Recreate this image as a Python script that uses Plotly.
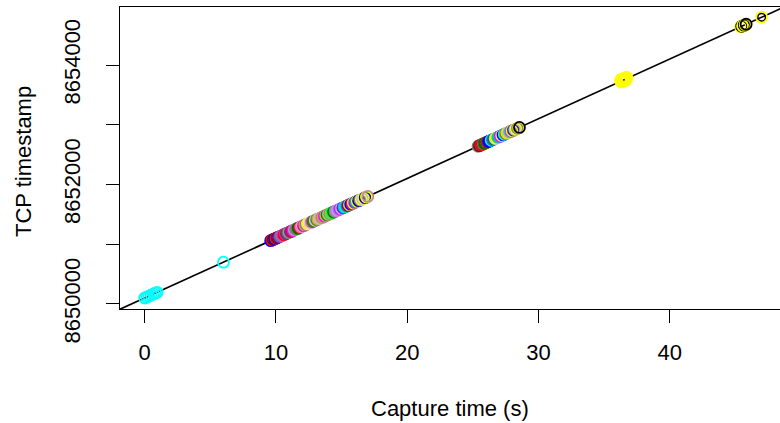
import plotly.graph_objects as go

# ---- data ----
# cluster A (cyan), start of capture
a_time = [0.00, 0.16, 0.32, 0.50, 0.66, 0.82, 0.95]
a_ts = [8650100, 8650116, 8650132, 8650150, 8650166, 8650182, 8650195]
a_col = ["cyan"] * len(a_time)

# single cyan point
s_time = [6.0]
s_ts = [8650700]
s_col = ["cyan"]

# cluster B (multi-coloured)
b_time = [9.6, 9.7, 9.8, 9.9, 10.0, 10.1, 10.2, 10.3, 10.4, 10.5, 10.6, 10.7, 10.8, 10.9,
          11.0, 11.1, 11.2, 11.3, 11.4, 11.5, 11.6, 11.7, 11.8, 11.9, 12.0, 12.1, 12.2,
          12.3, 12.4, 12.5, 12.6, 12.7, 12.8, 12.9, 13.0, 13.1, 13.2, 13.3, 13.4, 13.5,
          13.6, 13.7, 13.8, 13.9, 14.0, 14.1, 14.2, 14.3, 14.4, 14.5, 14.6, 14.7, 14.8,
          14.9, 15.0, 15.1, 15.2, 15.3, 15.4, 15.5, 15.6, 15.7, 15.8, 15.9, 16.0, 16.1,
          16.2, 16.3, 16.4, 16.5, 16.6, 16.7, 16.8, 16.9, 17.0]
b_ts = [8651060, 8651070, 8651080, 8651090, 8651100, 8651110, 8651120, 8651130, 8651140,
        8651150, 8651160, 8651170, 8651180, 8651190, 8651200, 8651210, 8651220, 8651230,
        8651240, 8651250, 8651260, 8651270, 8651280, 8651290, 8651300, 8651310, 8651320,
        8651330, 8651340, 8651350, 8651360, 8651370, 8651380, 8651390, 8651400, 8651410,
        8651420, 8651430, 8651440, 8651450, 8651460, 8651470, 8651480, 8651490, 8651500,
        8651510, 8651520, 8651530, 8651540, 8651550, 8651560, 8651570, 8651580, 8651590,
        8651600, 8651610, 8651620, 8651630, 8651640, 8651650, 8651660, 8651670, 8651680,
        8651690, 8651700, 8651710, 8651720, 8651730, 8651740, 8651750, 8651760, 8651770,
        8651780, 8651790, 8651800]
b_col = ["blue", "red", "darkred", "mediumblue", "crimson", "maroon", "purple", "slateblue",
         "gray", "mediumorchid", "red", "deeppink", "darkslateblue", "dimgray", "rosybrown",
         "rebeccapurple", "firebrick", "magenta", "darkgray", "mediumpurple", "olivedrab",
         "darkgreen", "brown", "hotpink", "plum", "mediumvioletred", "salmon", "gray",
         "khaki", "yellow", "pink", "orchid", "darkolivegreen", "forestgreen", "lightpink",
         "seagreen", "goldenrod", "silver", "tan", "palevioletred", "yellowgreen", "magenta",
         "darkkhaki", "green", "lightsalmon", "limegreen", "darkseagreen", "lime",
         "darkgreen", "mediumseagreen", "orchid", "violet", "cornflowerblue", "fuchsia",
         "lightskyblue", "darkviolet", "deepskyblue", "springgreen", "royalblue", "purple",
         "gold", "blue", "mediumvioletred", "yellow", "blueviolet", "dodgerblue", "yellow",
         "navy", "mediumslateblue", "yellow", "lightsteelblue", "yellow", "blue", "yellow",
         "rosybrown"]

# cluster C (multi-coloured)
c_time = [25.4, 25.5, 25.6, 25.7, 25.8, 25.9, 26.0, 26.1, 26.2, 26.3, 26.4, 26.5, 26.6,
          26.7, 26.8, 26.9, 27.0, 27.1, 27.2, 27.3, 27.4, 27.5, 27.6, 27.7, 27.8, 27.9,
          28.0, 28.1, 28.2, 28.3, 28.4, 28.5, 28.55]
c_ts = [8652640, 8652650, 8652660, 8652670, 8652680, 8652690, 8652700, 8652710, 8652720,
        8652730, 8652740, 8652750, 8652760, 8652770, 8652780, 8652790, 8652800, 8652810,
        8652820, 8652830, 8652840, 8652850, 8652860, 8652870, 8652880, 8652890, 8652900,
        8652910, 8652920, 8652930, 8652940, 8652950, 8652955]
c_col = ["gray", "darkred", "brown", "red", "dimgray", "darkgreen", "green", "red", "blue",
         "blue", "cyan", "royalblue", "green", "lightblue", "yellow", "limegreen",
         "deepskyblue", "magenta", "khaki", "blue", "cyan", "olive", "gold", "lightgreen",
         "salmon", "dodgerblue", "yellow", "purple", "lightskyblue", "yellow", "gray",
         "yellow", "black"]

# cluster D (yellow blob)
d_time = [36.25, 36.29, 36.33, 36.37, 36.41, 36.45, 36.49, 36.53, 36.57, 36.61, 36.65,
          36.69, 36.73, 36.30, 36.40, 36.50, 36.60, 36.70]
d_ts = [8653740, 8653715, 8653748, 8653722, 8653756, 8653730, 8653764, 8653738, 8653772,
        8653746, 8653780, 8653754, 8653788, 8653760, 8653722, 8653776, 8653741, 8653795]
d_col = ["yellow"] * len(d_time)

# cluster E (yellow / black near the end)
e_time = [45.40, 45.48, 45.55, 45.68, 45.75, 45.82]
e_ts = [8654640, 8654648, 8654655, 8654668, 8654676, 8654682]
e_col = ["yellow", "black", "yellow", "black", "yellow", "black"]

# last point
f_time = [47.0]
f_ts = [8654800]
f_col = ["yellow"]

# fitted line
line_intercept = 8650100
line_slope = 100.0

x_range = [-1.88, 48.4]
y_range = [8649916, 8654971]
x_ticks = [0, 10, 20, 30, 40]
y_ticks = [8650000, 8651000, 8652000, 8653000, 8654000]
y_tick_text = ["8650000", "", "8652000", "", "8654000"]

FONT = "Liberation Sans, Arial, sans-serif"
FS = 22

fig = go.Figure()

# line first (points are drawn over it)
lx = [x_range[0] - 1, x_range[1] + 1]
fig.add_trace(go.Scatter(x=lx, y=[line_intercept + line_slope * v for v in lx],
                         mode="lines", line=dict(color="black", width=1.6),
                         hoverinfo="skip", showlegend=False))

def add_points(xs, ys, cols, size=11, width=1.8):
    fig.add_trace(go.Scatter(x=xs, y=ys, mode="markers", showlegend=False,
                             marker=dict(symbol="circle-open", size=size,
                                         color=cols, line=dict(width=width, color=cols))))

add_points(a_time, a_ts, a_col)
add_points(s_time, s_ts, s_col)
add_points(b_time, b_ts, b_col)
add_points(c_time, c_ts, c_col)
add_points(d_time, d_ts, d_col)
add_points(e_time, e_ts, e_col)
add_points(f_time, f_ts, f_col)
# inner dark ring seen on the final yellow point
add_points(f_time, f_ts, ["black"], size=7.5, width=1.4)

fig.update_layout(
    width=780, height=423,
    margin=dict(l=120, r=0, t=7, b=114),
    paper_bgcolor="white", plot_bgcolor="white",
    font=dict(family=FONT, size=FS, color="black"),
    showlegend=False,
    xaxis=dict(range=x_range, tickvals=x_ticks, ticktext=[str(v) for v in x_ticks],
               showgrid=False, zeroline=False, showline=True, mirror=True,
               linecolor="black", linewidth=1.3, ticks="outside", ticklen=13,
               tickwidth=1.3, tickcolor="black", ticklabelstandoff=10,
               tickfont=dict(size=FS)),
    yaxis=dict(range=y_range, tickvals=y_ticks, ticktext=y_tick_text,
               showgrid=False, zeroline=False, showline=True, mirror=False,
               linecolor="black", linewidth=1.3, ticks="outside", ticklen=13,
               tickwidth=1.3, tickcolor="black", tickangle=-90,
               ticklabelstandoff=17, tickfont=dict(size=FS)),
    annotations=[
        dict(text="Capture time (s)", xref="paper", yref="paper", x=0.5, y=-0.328,
             xanchor="center", yanchor="middle", showarrow=False,
             font=dict(size=FS)),
        dict(text="TCP timestamp", xref="paper", yref="paper", x=-0.147, y=0.49,
             xanchor="center", yanchor="middle", textangle=-90, showarrow=False,
             font=dict(size=FS)),
    ],
)

fig.write_html("out.html", config={"displayModeBar": False},
               post_script="document.body.style.margin='0';"
               "document.body.style.overflow='hidden';")
